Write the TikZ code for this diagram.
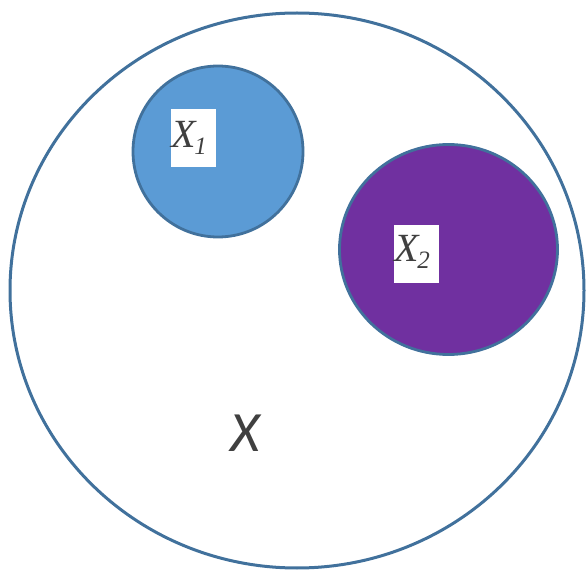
\documentclass[tikz,border=0pt]{standalone}
\usepackage{fontspec}
\usepackage{tikz}
\usepackage{xcolor}
\usetikzlibrary{positioning,shapes.geometric}
\setmainfont{Liberation Serif}
\newfontfamily\calfont{Carlito}
\definecolor{rimblue}{HTML}{41719C}
\definecolor{setblue}{HTML}{5B9BD5}
\definecolor{setpurple}{HTML}{7030A0}
\definecolor{labgray}{HTML}{404040}
\newcommand{\setname}[1]{X\kern-1pt\raisebox{-7pt}{\fontsize{25}{25}\selectfont #1}}

\begin{document}
\begin{tikzpicture}[
  x=1pt, y=-1pt,
  universe/.style={ellipse, draw=rimblue, line width=3pt, inner sep=0pt},
  subset/.style={ellipse, draw=rimblue, line width=2.8pt, inner sep=0pt},
  tag/.style={rectangle, fill=white, inner sep=0pt, text width=45pt, align=left, text=labgray, font=\itshape\fontsize{40}{40}\selectfont}
]
\useasboundingbox (0,0) rectangle (587,572);
\node[universe, minimum width=574pt, minimum height=555pt] (U) at (297,290.5) {};
\node[subset, fill=setblue, minimum width=170pt, minimum height=171pt] (A) at (218,151.5) {};
\node[subset, fill=setpurple, minimum width=218pt, minimum height=210pt] (B) at (448.5,249.5) {};
\node[tag, text height=39pt, text depth=19pt] (a) at (193.5,138) {\setname{1}};
\node[tag, text height=37pt, text depth=21pt] (b) at (416.5,254) {\setname{2}};
\node[text=labgray, font=\calfont\itshape\fontsize{57}{57}\selectfont] (u) at (245,433) {X};
\end{tikzpicture}
\end{document}
